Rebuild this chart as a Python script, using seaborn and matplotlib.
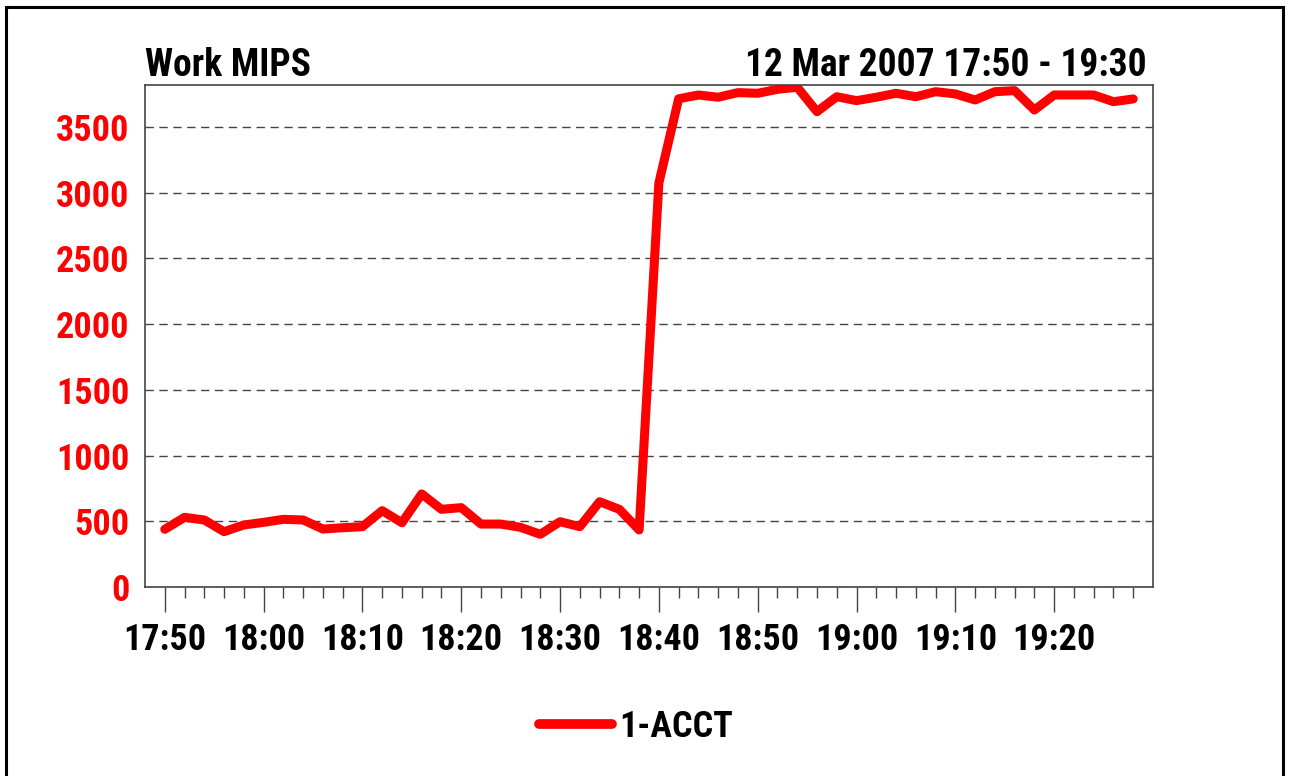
import numpy as np
import pandas as pd
import matplotlib
matplotlib.use("Agg")
import matplotlib.pyplot as plt
import matplotlib.patches as mpatches
import seaborn as sns

# ---- data ----
series_name = "1-ACCT"
start_time = "2007-03-12 17:50"
interval = "2min"
mips = [439, 530, 510, 421, 472, 492, 515, 510, 441, 451,
        459, 581, 489, 708, 591, 604, 479, 479, 454, 401,
        497, 459, 649, 591, 434, 3075, 3715, 3744, 3727, 3762,
        3757, 3787, 3803, 3617, 3731, 3701, 3727, 3757, 3731, 3769,
        3752, 3706, 3769, 3777, 3630, 3744, 3744, 3744, 3693, 3714]
x_tick_labels = ["17:50", "18:00", "18:10", "18:20", "18:30",
                 "18:40", "18:50", "19:00", "19:10", "19:20"]
y_ticks = [0, 500, 1000, 1500, 2000, 2500, 3000, 3500]
title_left = "Work MIPS"
title_right = "12 Mar 2007 17:50 - 19:30"

times = pd.date_range(start_time, periods=len(mips), freq=interval)
df = pd.DataFrame({"time": times, "MIPS": mips, "series": series_name})

sns.set_theme(style="white")
FONT = ["Roboto Condensed", "DejaVu Sans"]
plt.rcParams["font.family"] = FONT
plt.rcParams["font.weight"] = "bold"
FS = 26

fig = plt.figure(figsize=(12.9, 7.76), dpi=100)
ax = fig.add_axes([145 / 1290, 1 - 587 / 776, 1008 / 1290, 502 / 776])

sns.lineplot(data=df, x="time", y="MIPS", hue="series", palette=["#ff0000"],
             linewidth=6.5, ax=ax, legend=False)

day = "2007-03-12 "
ax.set_xlim(pd.Timestamp(day + "17:48"), pd.Timestamp(day + "19:30"))
ax.set_ylim(0, 3820)

major = [pd.Timestamp(day + t) for t in x_tick_labels]
ax.set_xticks(major)
ax.set_xticklabels(x_tick_labels)
minor = pd.date_range(day + "17:52", day + "19:28", freq="2min")
ax.set_xticks(minor, minor=True)

ax.set_yticks(y_ticks)
ax.set_yticklabels([str(v) for v in y_ticks])

ax.tick_params(axis="x", which="both", bottom=True, top=False)
ax.tick_params(axis="x", which="major", direction="out", length=18, width=1,
               color="#444444", pad=7, labelsize=FS, labelcolor="black")
ax.tick_params(axis="x", which="minor", direction="out", length=8, width=1,
               color="#444444")
ax.tick_params(axis="y", which="both", left=False, length=0, pad=11,
               labelsize=FS, labelcolor="#ff0000")
for lab in ax.get_xticklabels() + ax.get_yticklabels():
    lab.set_fontweight("bold")

ax.set_xlabel("")
ax.set_ylabel("")
ax.yaxis.grid(True, linestyle=(0, (6, 4)), color="#444444", linewidth=1)
ax.xaxis.grid(False)
for sp in ax.spines.values():
    sp.set_visible(True)
    sp.set_color("#444444")
    sp.set_linewidth(1.2)

fig.text(145 / 1290, 1 - 76 / 776, title_left, ha="left", va="baseline",
         fontsize=FS + 1, fontweight="bold", color="black")
fig.text(1147 / 1290, 1 - 76 / 776, title_right, ha="right", va="baseline",
         fontsize=FS + 1, fontweight="bold", color="black")

handle = plt.Line2D([], [], color="#ff0000", linewidth=7, solid_capstyle="round")
fig.legend([handle], [series_name], loc="center",
           bbox_to_anchor=(636 / 1290, 1 - 727 / 776), frameon=False,
           prop={"family": FONT, "weight": "bold", "size": FS},
           labelcolor="black", handlelength=2.0, handletextpad=0.2)

border = mpatches.Rectangle((6 / 1290, -0.01), (1283 - 6) / 1290, 1.01 - 7 / 776,
                            transform=fig.transFigure, fill=False,
                            edgecolor="black", linewidth=2.2)
fig.patches.append(border)

fig.savefig("out.png", dpi=100)
